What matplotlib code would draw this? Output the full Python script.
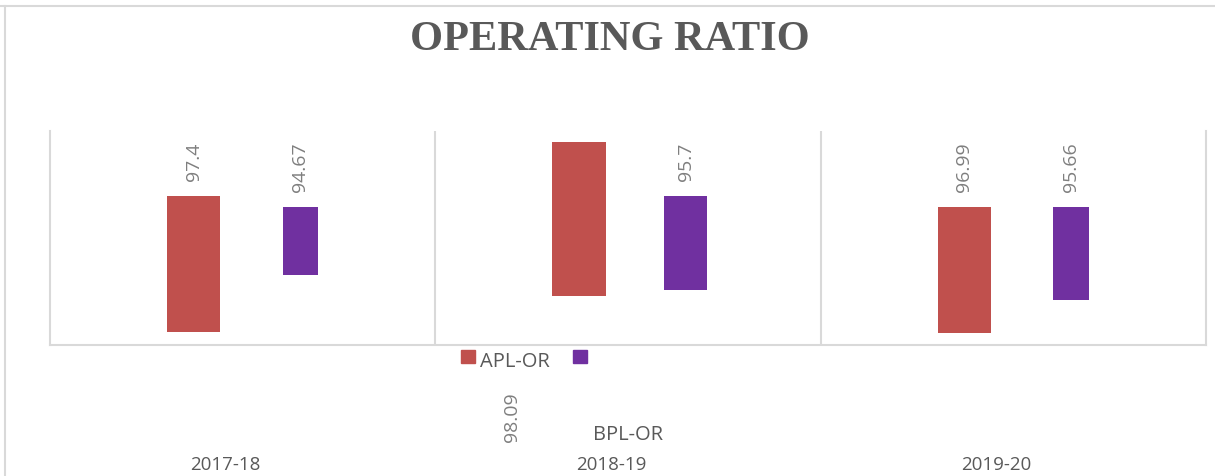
import matplotlib
matplotlib.use("Agg")
import matplotlib.pyplot as plt
from matplotlib.patches import Rectangle
from matplotlib.lines import Line2D

# data
years = ["2017-18", "2018-19", "2019-20"]
apl_or = [97.4, 98.09, 96.99]
bpl_or = [94.67, 95.7, 95.66]
# the bars float in the original chart: top and bottom (0-100 plot scale)
apl_top = [69.6, 94.9, 64.5]
apl_bottom = [6.2, 23.0, 5.6]
bpl_top = [64.5, 69.6, 64.5]
bpl_bottom = [32.9, 25.7, 21.0]

W, H = 1215, 477
GRID = "#d9d9d9"
APL_COLOR = "#c0504d"
BPL_COLOR = "#7030a0"
LABEL_GRAY = "#7f7f7f"
TEXT_DARK = "#595959"


def fx(px):
    return px / W


def fy(py):
    return 1 - py / H


fig = plt.figure(figsize=(W / 100, H / 100), dpi=100)

# outer chart frame (top and left edges only are visible)
fig.add_artist(Line2D([0, 1], [fy(7), fy(7)], color=GRID, lw=1.5, transform=fig.transFigure))
fig.add_artist(Line2D([fx(5), fx(5)], [0, fy(7)], color=GRID, lw=1.5, transform=fig.transFigure))

# plot area
ax = fig.add_axes([fx(50), fy(346), fx(1206) - fx(50), fy(132) - fy(346)])
ax.set_xlim(-0.5, 2.5)
ax.set_ylim(0, 100)
for side in ["left", "right", "bottom"]:
    ax.spines[side].set_color(GRID)
    ax.spines[side].set_linewidth(1.5)
ax.spines["top"].set_visible(False)
for xv in [0.5, 1.5]:
    ax.axvline(xv, color=GRID, lw=1.5)
ax.set_xticks([])
ax.set_yticks([])

x = range(len(years))
apl_x = [i - 0.127 for i in x]
bpl_x = [i + 0.150 for i in x]
bpl_widths = [0.091, 0.112, 0.093]

ax.bar(apl_x, [t - b for t, b in zip(apl_top, apl_bottom)], bottom=apl_bottom,
       width=0.138, color=APL_COLOR)
ax.bar(bpl_x, [t - b for t, b in zip(bpl_top, bpl_bottom)], bottom=bpl_bottom,
       width=bpl_widths, color=BPL_COLOR)

label_font = dict(family="Open Sans", fontsize=14, color=LABEL_GRAY, rotation=90,
                  ha="center", va="bottom")
for i in x:
    if i != 1:
        ax.annotate(f"{apl_or[i]:g}", (apl_x[i], apl_top[i]), xytext=(0, 11.5),
                    textcoords="offset points", annotation_clip=False, **label_font)
    ax.annotate(f"{bpl_or[i]:g}", (bpl_x[i], bpl_top[i]), xytext=(0, 11.5),
                textcoords="offset points", annotation_clip=False, **label_font)
# the 2018-19 APL label sits far below the plot in the original
fig.text(fx(512), fy(442), f"{apl_or[1]:g}", transform=fig.transFigure, **label_font)

# category labels
for i, yr in enumerate(years):
    fig.text(fx(50 + 385.3 * (i + 0.5) - 17), fy(465), yr, family="Open Sans",
             fontsize=13.5, color=TEXT_DARK, ha="center", va="center")

# broken legend
fig.add_artist(Rectangle((fx(461), fy(364)), fx(14), 13 / H, color=APL_COLOR,
                         transform=fig.transFigure))
fig.text(fx(480), fy(362.5), "APL-OR", family="Open Sans", fontsize=14.5,
         color=TEXT_DARK, ha="left", va="center")
fig.add_artist(Rectangle((fx(573), fy(364)), fx(14), 13 / H, color=BPL_COLOR,
                         transform=fig.transFigure))
fig.text(fx(593), fy(435), "BPL-OR", family="Open Sans", fontsize=14.5,
         color=TEXT_DARK, ha="left", va="center")

# title
fig.text(fx(609.5), fy(50), "OPERATING RATIO", family="Liberation Serif",
         fontweight="bold", fontsize=30.5, color=TEXT_DARK, ha="center", va="baseline")

fig.savefig("out.png", dpi=100)
